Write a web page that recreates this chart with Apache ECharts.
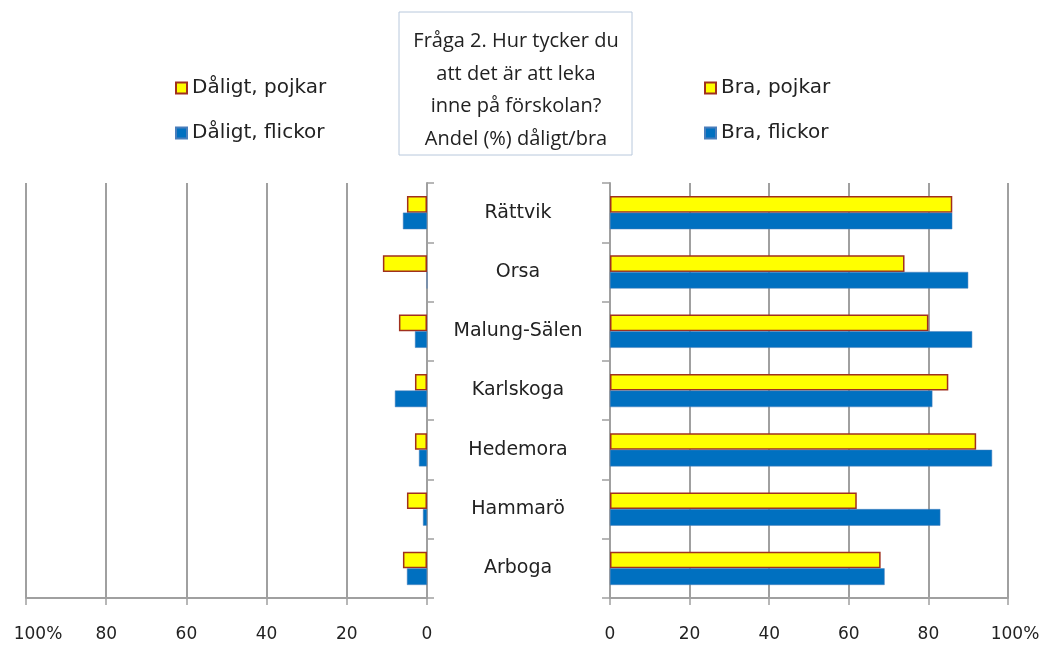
<!DOCTYPE html>
<html>
<head>
<meta charset="utf-8">
<script src="https://cdn.jsdelivr.net/npm/echarts@6/dist/echarts.min.js"></script>
<style>
html, body { margin: 0; padding: 0; background: #fff; }
#main { width: 1047px; height: 646px; }
</style>
</head>
<body>
<div id="main"></div>
<script>
var kommuner = ['Rättvik', 'Orsa', 'Malung-Sälen', 'Karlskoga', 'Hedemora', 'Hammarö', 'Arboga'];
var daligtPojkar = [5, 11, 7, 3, 3, 5, 6];
var daligtFlickor = [6, 0, 3, 8, 2, 1, 5];
var braPojkar = [86, 74, 80, 85, 92, 62, 68];
var braFlickor = [86, 90, 91, 81, 96, 83, 69];
var titelRader = ['Fråga 2. Hur tycker du', 'att det är att leka', 'inne på förskolan?', 'Andel (%) dåligt/bra'];

var gul = '#ffff00';
var bla = '#0070c0';
var gra = '#a0a0a0';
var textFarg = '#222';
var typsnitt = '"DejaVu Sans", sans-serif';

// 100 %-etiketten sitter lite till höger om sitt streck, som i Excel
function xEtikett(pad) {
	return {
		fontSize: 17,
		fontFamily: typsnitt,
		color: textFarg,
		margin: 28,
		formatter: function(v) {
			return v === 100 ? '{m|100%}' : String(v);
		},
		rich: {
			m: { fontSize: 17, fontFamily: typsnitt, color: textFarg, padding: [0, 0, 0, pad] }
		}
	};
}

function legend(namn, x) {
	return {
		data: namn,
		orient: 'vertical',
		left: x,
		top: 73,
		icon: 'rect',
		itemWidth: 11,
		itemHeight: 11,
		itemGap: 25,
		textStyle: { fontSize: 20, fontFamily: typsnitt, color: textFarg }
	};
}

var chart = echarts.init(document.getElementById('main'));
chart.setOption({
	animation: false,
	graphic: [{
		type: 'rect',
		shape: { x: 399, y: 12, width: 233, height: 143 },
		style: { fill: '#fff', stroke: '#b8c8dc', lineWidth: 1 }
	}, {
		type: 'text',
		x: 516,
		y: 25,
		style: {
			text: titelRader.join('\n'),
			align: 'center',
			fill: textFarg,
			font: '20px "Open Sans", sans-serif',
			lineHeight: 32.7
		}
	}],
	legend: [
		legend(['Dåligt, pojkar', 'Dåligt, flickor'], 170),
		legend(['Bra, pojkar', 'Bra, flickor'], 699)
	],
	grid: [{
		left: 26,
		right: 620,
		top: 183,
		bottom: 48
	}, {
		left: 610,
		right: 39,
		top: 183,
		bottom: 48
	}],
	xAxis: [{
		gridIndex: 0,
		type: 'value',
		inverse: true,
		min: 0,
		max: 100,
		interval: 20,
		axisLine: { show: true, lineStyle: { color: gra, width: 2 } },
		axisTick: { show: true, length: 7, lineStyle: { color: gra, width: 1.5 } },
		splitLine: { show: true, lineStyle: { color: gra, width: 2 } },
		axisLabel: xEtikett(24)
	}, {
		gridIndex: 1,
		type: 'value',
		min: 0,
		max: 100,
		interval: 20,
		axisLine: { show: true, lineStyle: { color: gra, width: 2 } },
		axisTick: { show: true, length: 7, lineStyle: { color: gra, width: 1.5 } },
		splitLine: { show: true, lineStyle: { color: gra, width: 2 } },
		axisLabel: xEtikett(14)
	}],
	yAxis: [{
		gridIndex: 0,
		type: 'category',
		data: kommuner,
		inverse: true,
		position: 'right',
		axisLine: { show: true, lineStyle: { color: gra, width: 2 } },
		axisTick: { show: true, length: 7, lineStyle: { color: gra, width: 1.5 } },
		axisLabel: { show: false }
	}, {
		gridIndex: 1,
		type: 'category',
		data: kommuner,
		inverse: true,
		position: 'left',
		axisLine: { show: true, lineStyle: { color: gra, width: 2 } },
		axisTick: { show: true, length: 8, lineStyle: { color: gra, width: 1.5 } },
		axisLabel: { fontSize: 19, fontFamily: typsnitt, color: textFarg, align: 'center', margin: 92 }
	}],
	series: [{
		name: 'Dåligt, pojkar',
		type: 'bar',
		xAxisIndex: 0,
		yAxisIndex: 0,
		data: daligtPojkar,
		barGap: '0%',
		barCategoryGap: '44%',
		itemStyle: { color: gul, borderColor: '#a0301e', borderWidth: 1.5 }
	}, {
		name: 'Dåligt, flickor',
		type: 'bar',
		xAxisIndex: 0,
		yAxisIndex: 0,
		data: daligtFlickor,
		barGap: '0%',
		barCategoryGap: '44%',
		itemStyle: { color: bla, borderColor: '#4a7ebb', borderWidth: 0.5 }
	}, {
		name: 'Bra, pojkar',
		type: 'bar',
		xAxisIndex: 1,
		yAxisIndex: 1,
		data: braPojkar,
		barGap: '0%',
		barCategoryGap: '44%',
		itemStyle: { color: gul, borderColor: '#a0301e', borderWidth: 1.5 }
	}, {
		name: 'Bra, flickor',
		type: 'bar',
		xAxisIndex: 1,
		yAxisIndex: 1,
		data: braFlickor,
		barGap: '0%',
		barCategoryGap: '44%',
		itemStyle: { color: bla, borderColor: '#4a7ebb', borderWidth: 0.5 }
	}]
});
</script>
</body>
</html>
